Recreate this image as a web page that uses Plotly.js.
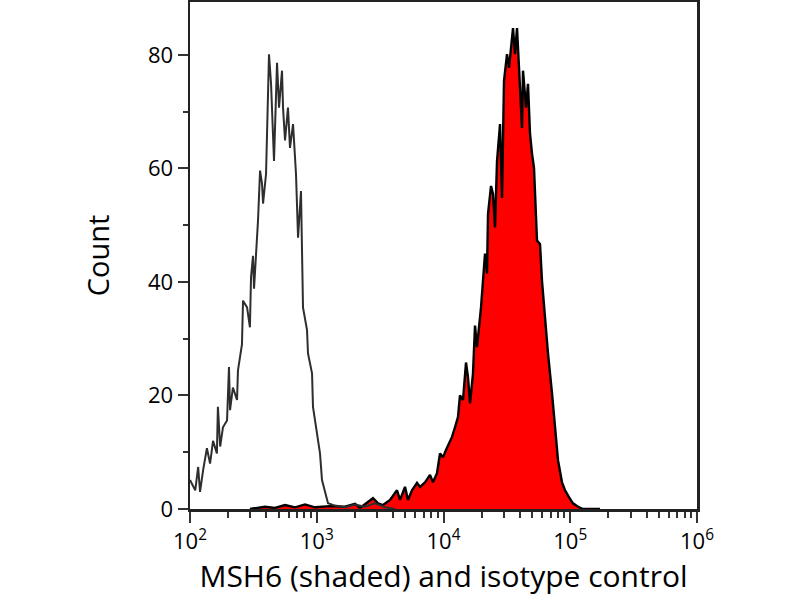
<!DOCTYPE html>
<html>
<head>
<meta charset="utf-8">
<script src="https://cdn.plot.ly/plotly-3.0.1.min.js"></script>
<style>
html, body { margin: 0; padding: 0; background: #fff; }
#flow-chart { width: 800px; height: 600px; }
</style>
</head>
<body>
<div id="flow-chart"></div>
<script>
// MSH6 stained cells (red, shaded)
const msh6X = [297, 391, 468, 562, 674, 808, 969, 1272, 1671, 2004, 2194, 2778, 3042, 3332, 3784,
  4297, 4538, 4970, 5248, 5644, 6180, 6526, 7147, 7826, 8265, 8887, 9384, 9908, 10460, 11050,
  11670, 12320, 13010, 13490, 14250, 15050, 15610, 16190, 17090, 17730, 18380, 19770, 20500,
  21260, 22040, 22450, 23710, 24590, 25490, 26440, 27920, 28950, 30020, 31700, 32880, 34710,
  35350, 36660, 38020, 39420, 41630, 42400, 44770, 46420, 48130, 49920, 51760, 54660, 57720,
  59850, 63200, 66750, 71780, 75800, 80050, 86090, 90920, 97750, 105100, 115100, 126100, 171700];
const msh6Y = [0, 0.4, 0.2, 0.7, 0.3, 0.8, 0.3, 0.5, 0.4, 0.9, 0.2, 1.9, 1, 0.7, 1.6,
  3.3, 1.6, 3.9, 1.6, 3.3, 4.6, 3.9, 4.7, 6, 4.7, 6.3, 9.8, 9.1, 10.4, 11.6,
  12.7, 14.4, 16.2, 20, 19.2, 25.8, 23.2, 18.6, 23.9, 32.3, 28.5, 35.5, 40.8,
  45, 41.5, 52, 56.9, 55.5, 49.6, 61.3, 67.8, 54.8, 75.4, 80.1, 77.7, 82.4,
  84.7, 80.1, 84.7, 77.7, 67.1, 77.2, 70.7, 74.9, 66.1, 62.6, 60.1, 47.3, 46.7,
  40.2, 33.2, 27.4, 20.4, 13.9, 8.6, 4.7, 3.3, 2.1, 1, 0.4, 0, 0];

// isotype control (open line)
const isoX = [100, 110, 116, 120, 127, 136, 144, 152, 163, 166, 173, 182, 196, 203, 207, 218,
  235, 239, 257, 262, 282, 297, 303, 314, 320, 332, 344, 357, 370, 377, 398, 420, 436, 460,
  486, 504, 532, 542, 562, 593, 615, 650, 686, 712, 751, 779, 838, 853, 918, 934, 1005,
  1061, 1100, 1162, 1227, 1393, 1671, 2004, 2403, 2882, 3456, 4145];
const isoY = [5.1, 3.3, 7.4, 3, 6.9, 10.7, 8, 12, 9.8, 18, 11, 14.4, 15.6, 25, 17.4, 21.4,
  19.2, 24.4, 29, 36.7, 35.5, 32, 40.8, 44.6, 38.8, 44.3, 50.8, 59.6, 57.3, 53.8, 59, 80.1, 74.9, 61.3,
  78.6, 70.7, 77.2, 70.7, 64.9, 70.7, 63.6, 67.8, 59, 47.8, 56, 35.5, 31.5, 27.4, 23.9, 18, 13.4,
  9.8, 5.1, 2.8, 1, 0.6, 0.3, 0.8, 0.4, 1.0, 0.3, 0];

const xTickVals = [100, 1000, 10000, 100000, 1000000];
const xTickText = ["10<sup>2</sup>", "10<sup>3</sup>", "10<sup>4</sup>", "10<sup>5</sup>", "10<sup>6</sup>"];
const xMinorVals = [200, 300, 400, 500, 600, 700, 800, 900,
  2000, 3000, 4000, 5000, 6000, 7000, 8000, 9000,
  20000, 30000, 40000, 50000, 60000, 70000, 80000, 90000,
  200000, 300000, 400000, 500000, 600000, 700000, 800000, 900000];
const yTickVals = [0, 20, 40, 60, 80];
const yMinorVals = [10, 30, 50, 70];

const font = "Open Sans, Lato, sans-serif";

const data = [{
  x: msh6X,
  y: msh6Y,
  mode: "lines",
  fill: "tozeroy",
  fillcolor: "#ff0000",
  line: {color: "#000000", width: 2.4},
  hoverinfo: "skip"
}, {
  x: isoX,
  y: isoY,
  mode: "lines",
  line: {color: "#2e2e2e", width: 2},
  hoverinfo: "skip"
}];

const layout = {
  width: 800,
  height: 600,
  showlegend: false,
  paper_bgcolor: "#fff",
  plot_bgcolor: "#fff",
  margin: {t: 2, l: 190, b: 91, r: 103},
  font: {family: font, color: "#000"},
  xaxis: {
    type: "log",
    range: [2, 6],
    tickmode: "array",
    tickvals: xTickVals,
    ticktext: xTickText,
    ticks: "outside",
    ticklen: 11,
    tickwidth: 2,
    tickcolor: "#333",
    minor: {tickmode: "array", tickvals: xMinorVals, ticks: "outside", ticklen: 6, tickwidth: 2, tickcolor: "#333"},
    showgrid: false,
    zeroline: false,
    showline: true,
    linecolor: "#222",
    linewidth: 2.5,
    mirror: true,
    tickfont: {size: 22},
    title: {text: "MSH6 (shaded) and isotype control", font: {size: 30}, standoff: 8},
    automargin: false
  },
  yaxis: {
    range: [0, 89.3],
    tickmode: "array",
    tickvals: yTickVals,
    ticks: "outside",
    ticklen: 10,
    tickwidth: 2,
    tickcolor: "#333",
    minor: {tickmode: "array", tickvals: yMinorVals, ticks: "outside", ticklen: 5, tickwidth: 2, tickcolor: "#333"},
    showgrid: false,
    zeroline: false,
    showline: true,
    linecolor: "#222",
    linewidth: 2.5,
    mirror: true,
    tickfont: {size: 22},
    title: {text: "Count", font: {size: 29}, standoff: 30},
    automargin: false
  }
};

var config = {staticPlot: true};

Plotly.newPlot("flow-chart", data, layout, config);
</script>
</body>
</html>
